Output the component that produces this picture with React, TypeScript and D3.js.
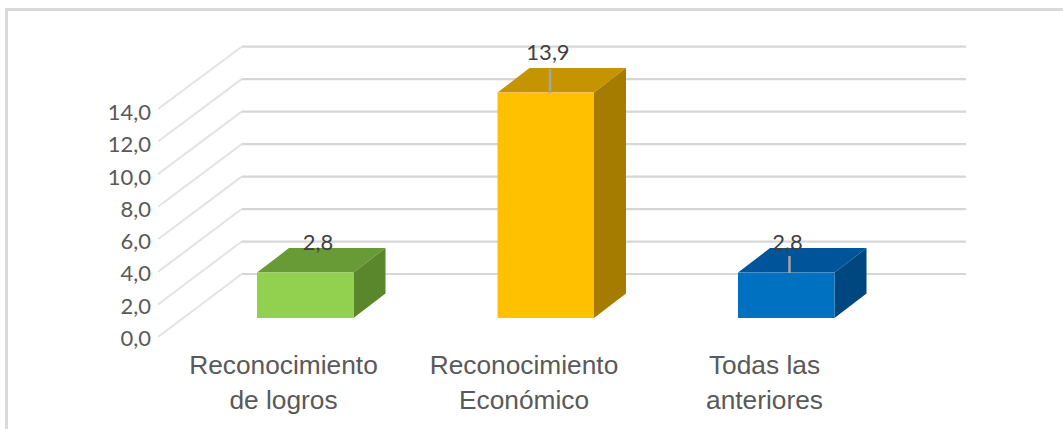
import React from "react";
import * as d3 from "d3";

const categories = [["Reconocimiento", "de logros"], ["Reconocimiento", "Económico"], ["Todas las", "anteriores"]];
const values = [2.8, 13.9, 2.8];
const valueLabels = ["2,8", "13,9", "2,8"];
const ticks = [0, 2, 4, 6, 8, 10, 12, 14];
const fronts = ["#92d050", "#ffc000", "#0070c0"];
const tops = ["#689a35", "#c49500", "#00559a"];
const sides = ["#5a862c", "#a67c00", "#00477f"];

const W = 1063, H = 429;
const DX = 32, DY = 24.5;
const yBack = d3.scaleLinear().domain([0, 14]).range([274, 46.7]);
const yFront = d3.scaleLinear().domain([0, 14]).range([337, 109]);
const yTickLabel = d3.scaleLinear().domain([0, 14]).range([346, 120]);
const yBar = d3.scaleLinear().domain([0, 14]).range([318, 91]);
const xBar = d3.scaleBand<number>().domain([0, 1, 2]).range([136.75, 954.75]).paddingInner(0.5988).paddingOuter(0.5);
const barW = xBar.bandwidth();
const labelOffsets = [61, 50.5, 49.5];
const labelBaselines = [250, 60, 250];
const catOffset = 26.5;
const leaders: (null | [number, number])[] = [null, [69, 93], [256, 273]];

export default function App() {
  return (
    <svg width={W} height={H} style={{ position: "absolute", left: 0, top: 0 }} xmlns="http://www.w3.org/2000/svg">
      <rect width={W} height={H} fill="#fff" />
      <path d={`M6.5 ${H} V9.5 H${W}`} fill="none" stroke="#d9d9d9" strokeWidth={3} />
      {ticks.map(t => (
        <g key={t} fill="none">
          <path d={`M158 ${yFront(t)} L241.7 ${yBack(t)}`} stroke="#e3e3e3" strokeWidth={2} />
          <path d={`M241.7 ${yBack(t)} H966`} stroke="#d6d6d6" strokeWidth={2.2} />
        </g>
      ))}
      {ticks.map(t => (
        <text key={t} x={151} y={yTickLabel(t)} textAnchor="end" fontFamily="Lato" fontSize={22} fill="#595959">
          {t.toFixed(1).replace(".", ",")}
        </text>
      ))}
      {values.map((v, i) => {
        const x = xBar(i)!, y0 = yBar(0), y1 = yBar(v);
        return (
          <g key={i}>
            <path d={`M${x} ${y1} l${DX} ${-DY} h${barW} l${-DX} ${DY} Z`} fill={tops[i]} />
            <path d={`M${x + barW} ${y1} l${DX} ${-DY} V${y0 - DY} l${-DX} ${DY} Z`} fill={sides[i]} />
            <rect x={x} y={y1} width={barW} height={y0 - y1} fill={fronts[i]} />
          </g>
        );
      })}
      {leaders.map((l, i) => l && (
        <line key={i} x1={xBar(i)! + labelOffsets[i] + 2} x2={xBar(i)! + labelOffsets[i] + 2} y1={l[0]} y2={l[1]} stroke="#a6a6a6" strokeWidth={2.5} />
      ))}
      {valueLabels.map((s, i) => (
        <text key={i} x={xBar(i)! + labelOffsets[i]} y={labelBaselines[i]} textAnchor="middle" fontFamily="Lato" fontSize={22} fill="#404040">{s}</text>
      ))}
      {categories.map((lines, i) => lines.map((s, j) => (
        <text key={s + j} x={xBar(i)! + catOffset} y={374 + j * 35} textAnchor="middle" fontFamily="Liberation Sans" fontSize={26.3} fill="#595959">{s}</text>
      )))}
    </svg>
  );
}
